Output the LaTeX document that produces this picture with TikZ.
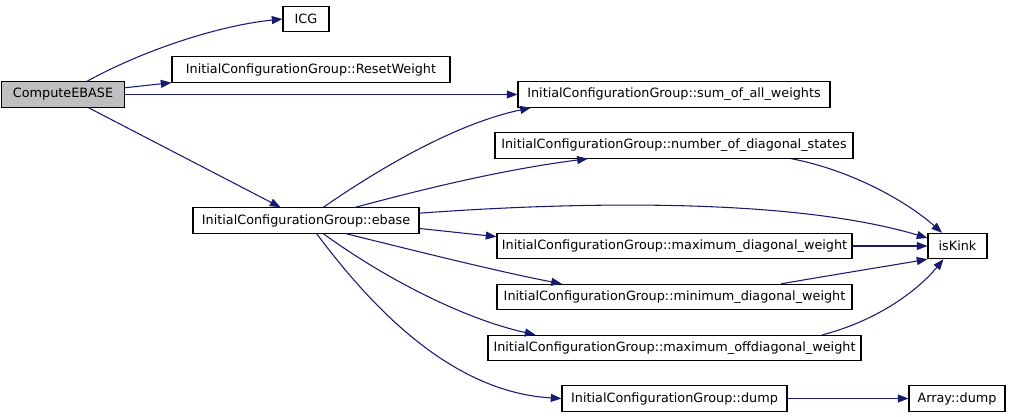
\documentclass[tikz,border=0pt]{standalone}
\usepackage{fontspec}
\setmainfont{DejaVu Sans}
\usepackage{xcolor}
\usepackage{tikz}
\usetikzlibrary{
  positioning,
  arrows.meta
}
\definecolor{callblue}{HTML}{191970}
\tikzset{
  >=Latex,
  call/.style={-{Triangle[length=8pt,width=6pt]},draw=callblue,line width=0.8pt},
  fn/.style={rectangle,draw=black,line width=0.8pt,fill=white,minimum height=19pt,inner sep=1pt,align=center},
  rootfn/.style={fn,fill=gray!50}
}
\begin{document}
\begin{tikzpicture}[x=0.75pt,y=-0.75pt,font=\fontsize{9.6}{11}\selectfont]
    \useasboundingbox (0,0) rectangle (1011,417);
    \node[rootfn,minimum width=123*0.75pt] (compute) at (63,94.5) {ComputeEBASE};
    \foreach \x/\y/\w/\name/\id in {306/19/46/ICG/icg,
        311/69.5/278/InitialConfigurationGroup::ResetWeight/reset,
        674/94.5/312/InitialConfigurationGroup::sum\_of\_all\_weights/sumw,
        674/145.5/358/InitialConfigurationGroup::number\_of\_diagonal\_states/ndiag,
        306/220.5/226/InitialConfigurationGroup::ebase/ebase,
        674.5/246/355/InitialConfigurationGroup::maximum\_diagonal\_weight/maxdiag,
        674.5/297/355/InitialConfigurationGroup::minimum\_diagonal\_weight/mindiag,
        674.5/348/373/InitialConfigurationGroup::maximum\_offdiagonal\_weight/maxoff,
        674.5/398.5/225/InitialConfigurationGroup::dump/dump,
        957.5/246/59/isKink/iskink,
        957/398.5/96/Array::dump/adump}
        \node[fn,minimum width=\w*0.75pt] (\id) at (\x,\y) {\name};

    % calls of ComputeEBASE
    \draw[call] ([xshift=18pt]compute.north) .. controls (140,52) and (215,26) .. (icg.west);
    \draw[call] (compute) -- (reset.south west);
    \draw[call] (compute) -- (sumw);
    \draw[call] (compute) -- (ebase);

    % calls of ebase
    \draw[call] ([xshift=13pt]ebase.north) .. controls (370,175) and (450,125) .. ([xshift=10pt]sumw.south west);
    \draw[call] ([xshift=37pt]ebase.north) .. controls (420,190) and (500,170) .. ([xshift=70pt]ndiag.south west);
    \draw[call] ([yshift=5.5pt]ebase.east) .. controls (600,200) and (800,200) .. ([yshift=6pt]iskink.west);
    \draw[call] ([yshift=-6pt]ebase.east) -- ([yshift=7pt]maxdiag.west);
    \draw[call] ([xshift=30pt]ebase.south) .. controls (420,252) and (500,272) .. ([xshift=49pt]mindiag.north west);
    \draw[call] ([xshift=13pt]ebase.south) .. controls (380,275) and (460,318) .. ([xshift=36pt]maxoff.north west);
    \draw[call] ([xshift=8pt]ebase.south) .. controls (370,305) and (450,392) .. (dump.west);

    % calls into isKink
    \draw[call] ([xshift=88pt]ndiag.south) .. controls (850,170) and (905,200) .. ([xshift=11pt]iskink.north west);
    \draw[call] (maxdiag) -- (iskink);
    \draw[call] ([xshift=80pt]mindiag.north) .. controls (850,272) and (900,264) .. (iskink.south west);
    \draw[call] ([xshift=111pt]maxoff.north) .. controls (880,320) and (920,288) .. ([xshift=12pt]iskink.south west);
    \draw[call] (dump) -- (adump);
\end{tikzpicture}
\end{document}
